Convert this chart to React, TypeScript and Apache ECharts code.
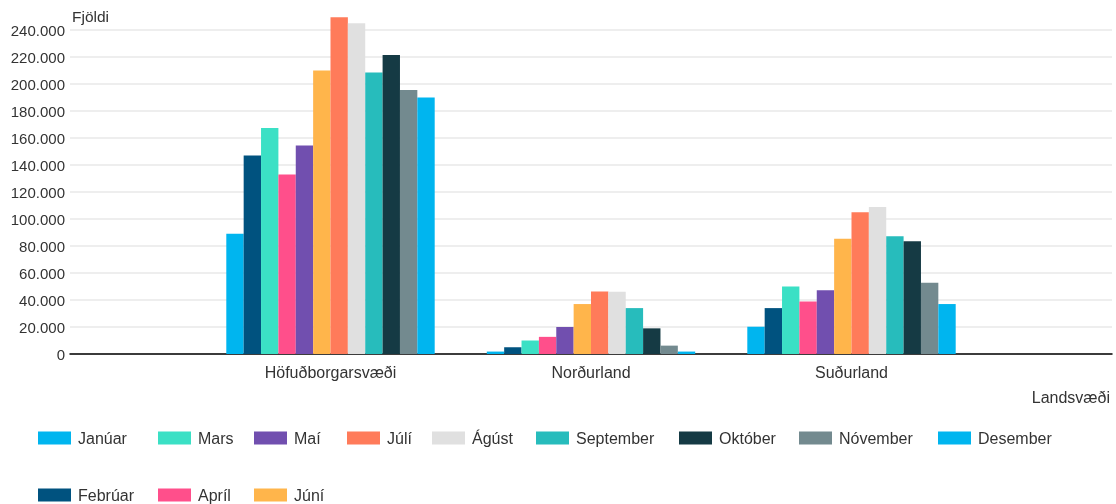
import React, { useEffect, useRef } from "react";
import * as echarts from "echarts";

const months = ["Janúar", "Febrúar", "Mars", "Apríl", "Maí", "Júní", "Júlí", "Ágúst", "September", "Október", "Nóvember", "Desember"];
const regions = ["", "Höfuðborgarsvæði", "Norðurland", "Suðurland", ""];
const hofudborgarsvaedi = [89000, 147000, 167500, 133000, 154500, 210000, 249500, 245000, 208500, 221500, 195500, 190000];
const nordurland = [1800, 5000, 10000, 12700, 20000, 37000, 46300, 46200, 34000, 19000, 6200, 1800];
const sudurland = [20200, 34000, 50000, 38800, 47200, 85300, 105000, 108800, 87300, 83600, 52700, 37000];
const colors = ["#00b5ef", "#00527f", "#3be0c5", "#ff4f8b", "#714faf", "#ffb54b", "#ff7b5a", "#e0e0e0", "#27bcbc", "#153a44", "#738a8f", "#00b5ef"];
// legend layout: [name, column left, row]
const legendItems: [string, number, number][] = [
  ["Janúar", 38, 0], ["Febrúar", 38, 1],
  ["Mars", 158, 0], ["Apríl", 158, 1],
  ["Maí", 254, 0], ["Júní", 254, 1],
  ["Júlí", 347, 0], ["Ágúst", 432, 0], ["September", 536, 0],
  ["Október", 679, 0], ["Nóvember", 799, 0], ["Desember", 938, 0],
];
const legendRowTops = [430, 487];

const FONT = "'Liberation Sans', Arial, sans-serif";

export default function App() {
  const ref = useRef<HTMLDivElement>(null);
  useEffect(() => {
    const chart = echarts.init(ref.current!, null, { renderer: "svg" });
    const series = months.map((m, i) => ({
      name: m,
      type: "bar",
      data: [null, hofudborgarsvaedi[i], nordurland[i], sudurland[i], null],
      itemStyle: { color: colors[i] },
      barGap: "0%",
      barCategoryGap: "20%",
      clip: false,
    }));
    chart.setOption({
      animation: false,
      textStyle: { fontFamily: FONT },
      grid: { left: 70, right: 4, top: 30, bottom: 150 },
      xAxis: {
        type: "category",
        data: regions,
        boundaryGap: false,
        axisLine: { lineStyle: { color: "#000", width: 1.5 } },
        axisTick: { show: false },
        axisLabel: { interval: 0, color: "#333", fontSize: 16, margin: 10, fontFamily: FONT },
        splitLine: { show: false },
      },
      yAxis: {
        type: "value",
        min: 0,
        max: 240000,
        interval: 20000,
        name: "Fjöldi",
        nameLocation: "end",
        nameGap: 6,
        nameTextStyle: { align: "left", verticalAlign: "bottom", color: "#333", fontSize: 15.5, fontFamily: FONT, padding: [0, 0, 0, 2] },
        axisLine: { show: false },
        axisTick: { show: false },
        axisLabel: {
          color: "#333",
          fontSize: 15,
          margin: 5,
          fontFamily: FONT,
          formatter: (v: number) => v.toString().replace(/\B(?=(\d{3})+(?!\d))/g, "."),
        },
        splitLine: { lineStyle: { color: "#e8e8e8", width: 1.5 } },
      },
      legend: legendItems.map(([name, left, row]) => ({
        left,
        top: legendRowTops[row],
        padding: 0,
        data: [name],
        icon: "rect",
        itemWidth: 33,
        itemHeight: 13,
        textStyle: { color: "#333", fontSize: 16, fontFamily: FONT, padding: [0, 0, 0, 2] },
        selectedMode: false,
      })),
      graphic: [
        {
          type: "text",
          right: 6,
          top: 389,
          style: { text: "Landsvæði", fill: "#333", font: `16px ${FONT}` },
        },
      ],
      series,
    });
    return () => chart.dispose();
  }, []);
  return <div ref={ref} style={{ position: "fixed", left: 0, top: 0, width: 1116, height: 504 }} />;
}
